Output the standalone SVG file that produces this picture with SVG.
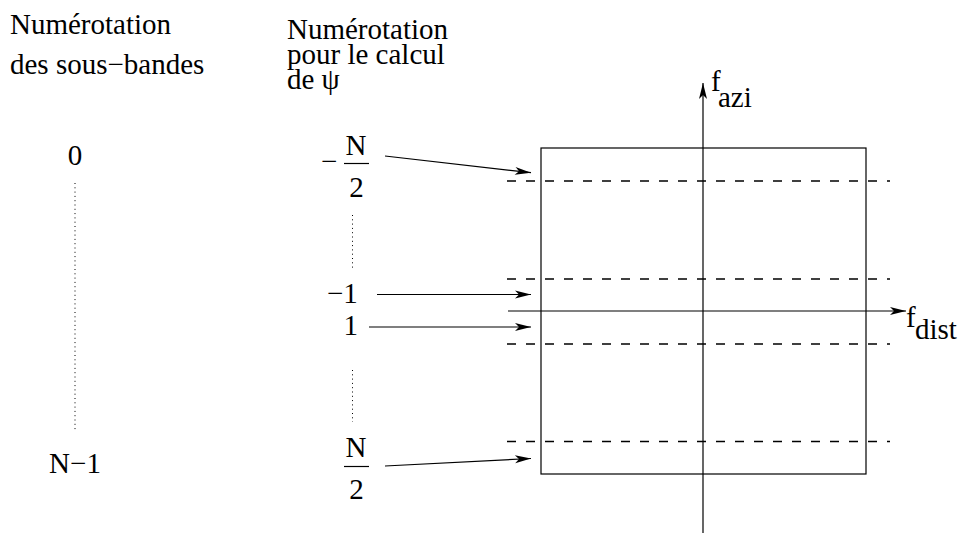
<svg xmlns="http://www.w3.org/2000/svg" width="959" height="533" viewBox="0 0 959 533">
<style>
text { font-family: "Liberation Serif", "Noto Serif", "DejaVu Serif", serif; font-size: 29px; fill: #000; }
.mid { text-anchor: middle; }
.ln { stroke: #000; stroke-width: 1.2; fill: none; }
.dash { stroke: #000; stroke-width: 1.4; fill: none; stroke-dasharray: 9 10; }
.dot { stroke: #000; stroke-width: 1; fill: none; stroke-dasharray: 1 3.3; }
.arr { stroke: #000; stroke-width: 1.2; fill: none; marker-end: url(#ah); }
</style>
<defs>
<marker id="ah" markerUnits="userSpaceOnUse" viewBox="-17 -5 18 10" refX="0" refY="0" markerWidth="18" markerHeight="10" orient="auto">
<path d="M0,0 L-16,-4 L-12,0 L-16,4 z" fill="#000"/>
</marker>
</defs>
<rect width="959" height="533" fill="#fff"/>

<g id="title-left" font-family="Liberation Serif, serif">
<text x="10" y="34">Numérotation</text>
<text x="10" y="74">des sous−bandes</text>
</g>
<g id="title-right" font-family="Liberation Serif, serif">
<text x="287" y="39">Numérotation</text>
<text x="287" y="64">pour le calcul</text>
<text x="287" y="89">de ψ</text>
</g>

<g id="left-scale" font-family="Liberation Serif, serif">
<text class="mid" x="75" y="165">0</text>
<line class="dot" x1="75" y1="183" x2="75" y2="432"/>
<text class="mid" x="75" y="473">N−1</text>
</g>

<g id="label-minus-n2" font-family="Liberation Serif, serif">
<text x="321" y="171">−</text>
<text class="mid" x="356" y="155">N</text>
<line class="ln" x1="344" y1="163.5" x2="369" y2="163.5"/>
<text class="mid" x="356.5" y="197">2</text>
</g>
<g id="dots-upper"><line class="dot" x1="352.5" y1="215" x2="352.5" y2="268"/></g>
<g id="label-minus-1" font-family="Liberation Serif, serif"><text x="327" y="303">−1</text></g>
<g id="label-1" font-family="Liberation Serif, serif"><text x="343.5" y="335">1</text></g>
<g id="dots-lower"><line class="dot" x1="352.5" y1="370" x2="352.5" y2="422"/></g>
<g id="label-n2" font-family="Liberation Serif, serif">
<text class="mid" x="356" y="457">N</text>
<line class="ln" x1="344" y1="466.5" x2="369" y2="466.5"/>
<text class="mid" x="356.5" y="499">2</text>
</g>

<g id="spectrum">
<rect class="ln" x="541" y="148" width="325" height="326"/>
<line class="dash" x1="507" y1="181" x2="890" y2="181"/>
<line class="dash" x1="507" y1="279" x2="890" y2="279"/>
<line class="dash" x1="507" y1="344" x2="890" y2="344"/>
<line class="dash" x1="507" y1="441.5" x2="890" y2="441.5"/>
</g>

<g id="axes" font-family="Liberation Serif, serif">
<line class="arr" x1="508" y1="311" x2="906" y2="311"/>
<line class="arr" x1="703" y1="535" x2="703" y2="83"/>
<text x="711" y="91">f</text>
<text x="718" y="107">azi</text>
<text x="906" y="327">f</text>
<text x="915" y="339">dist</text>
</g>

<g id="connectors">
<line class="arr" x1="385" y1="156" x2="531" y2="172.7"/>
<line class="arr" x1="377" y1="294.5" x2="531" y2="294.5"/>
<line class="arr" x1="369" y1="327" x2="531" y2="327"/>
<line class="arr" x1="385" y1="466" x2="531" y2="458.5"/>
</g>
</svg>
